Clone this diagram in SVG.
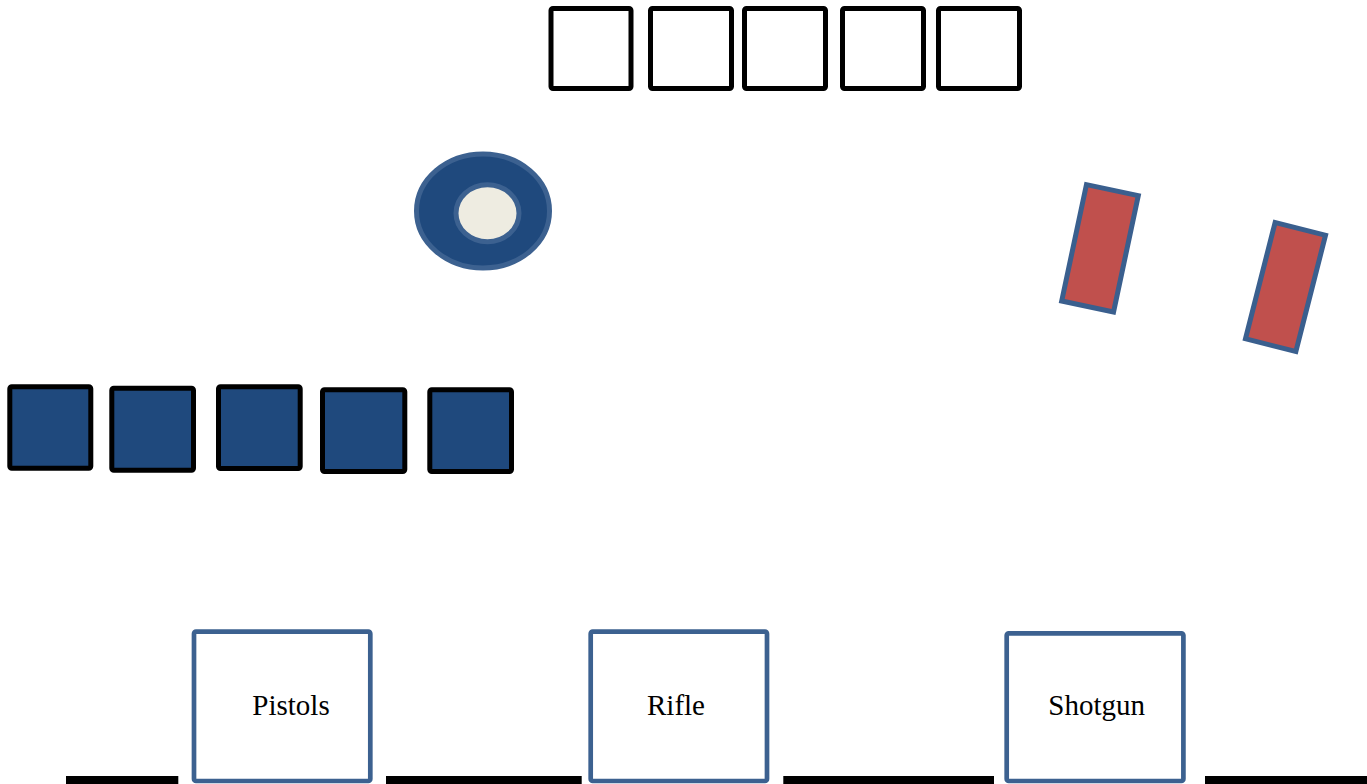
<svg xmlns="http://www.w3.org/2000/svg" width="1367" height="784" viewBox="0 0 1367 784">
<style>
.wsq{fill:#ffffff;stroke:#000000;stroke-width:5}
.bsq{fill:#1f497d;stroke:#000000;stroke-width:5}
.red{fill:#c0504d;stroke:#3a5f8e;stroke-width:5}
.box{fill:#ffffff;stroke:#3c6190;stroke-width:4.7}
.bar{fill:#000000}
.lbl{font-family:"Liberation Serif","Times New Roman",serif;font-size:29px;fill:#000000;text-anchor:middle}
</style>
<rect width="1367" height="784" fill="#ffffff"/>
<g id="top-squares">
<rect class="wsq" x="551" y="8.5" width="80" height="80" rx="2"/>
<rect class="wsq" x="650.5" y="8.5" width="81" height="80" rx="2"/>
<rect class="wsq" x="744.5" y="8.5" width="81" height="80" rx="2"/>
<rect class="wsq" x="842.5" y="8.5" width="81" height="80" rx="2"/>
<rect class="wsq" x="938.5" y="8.5" width="81" height="80" rx="2"/>
</g>
<g id="target">
<ellipse cx="483" cy="211" rx="66.5" ry="57" fill="#1f497d" stroke="#3c6190" stroke-width="5"/>
<ellipse cx="487.5" cy="213.3" rx="31.5" ry="28.5" fill="#eeece1" stroke="#3c6190" stroke-width="5"/>
</g>
<g id="red-1">
<rect class="red" x="-26.5" y="-59.5" width="53" height="119" transform="translate(1100 248.3) rotate(12)"/>
</g>
<g id="red-2">
<rect class="red" x="-26" y="-60" width="52" height="120" transform="translate(1285.5 287) rotate(14.3)"/>
</g>
<g id="blue-squares">
<rect class="bsq" x="9.8" y="386.8" width="81" height="81.4" rx="2"/>
<rect class="bsq" x="111.8" y="388.2" width="81.7" height="82" rx="2"/>
<rect class="bsq" x="218.5" y="386.8" width="81.7" height="81.7" rx="2"/>
<rect class="bsq" x="322.5" y="389.8" width="82.3" height="81.7" rx="2"/>
<rect class="bsq" x="429.8" y="389.8" width="81.7" height="81.7" rx="2"/>
</g>
<g id="bars">
<rect class="bar" x="66" y="776" width="112.3" height="10"/>
<rect class="bar" x="386" y="776" width="195.7" height="10"/>
<rect class="bar" x="783.3" y="776" width="210.7" height="10"/>
<rect class="bar" x="1205" y="776" width="162" height="10"/>
</g>
<g id="pistols">
<rect class="box" x="194" y="631.7" width="176.3" height="149.3" rx="2"/>
<text class="lbl" x="291" y="715">Pistols</text>
</g>
<g id="rifle">
<rect class="box" x="590.7" y="631.7" width="176.3" height="149.3" rx="2"/>
<text class="lbl" x="676" y="715">Rifle</text>
</g>
<g id="shotgun">
<rect class="box" x="1006.7" y="633.3" width="176.7" height="147.7" rx="2"/>
<text class="lbl" x="1096.7" y="715">Shotgun</text>
</g>
</svg>
